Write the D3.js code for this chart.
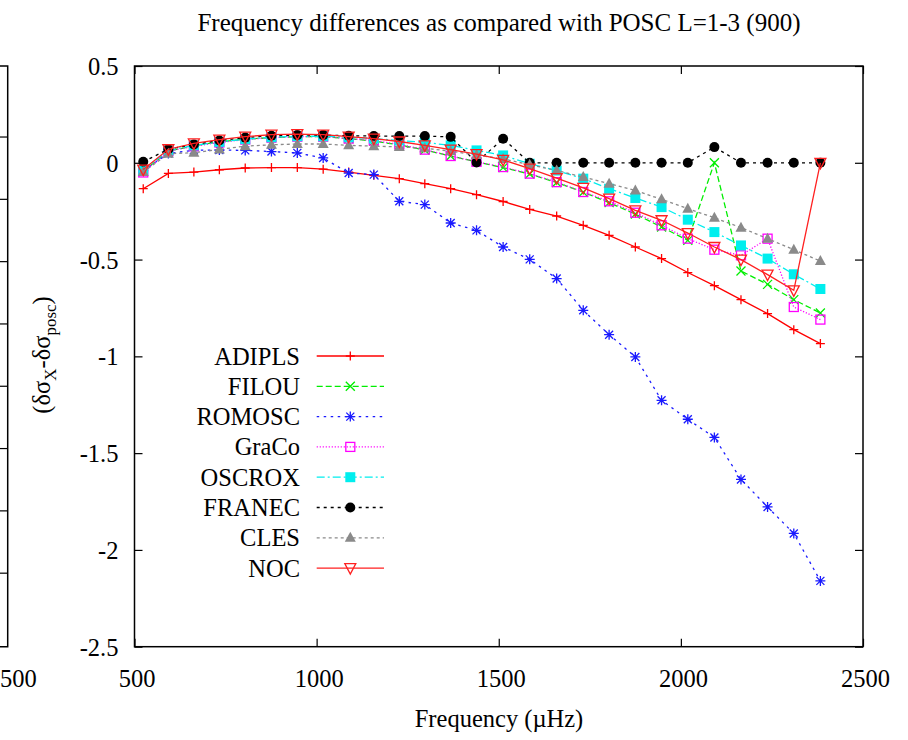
<!DOCTYPE html>
<html>
<head>
<meta charset="utf-8">
<script src="https://cdn.jsdelivr.net/npm/d3@7"></script>
<style>
  body { margin: 0; background: #fff; }
  svg { display: block; font-family: "Liberation Serif", "DejaVu Serif", serif; }
</style>
</head>
<body>
<div id="chart"></div>
<script>
// frequencies (muHz) of the modes
const freq = [524, 593, 663, 733, 804, 876, 947, 1018, 1088, 1157, 1227, 1297, 1368, 1439, 1512,
  1585, 1659, 1732, 1803, 1875, 1947, 2019, 2092, 2165, 2238, 2310, 2383]

const adipls = [-0.134, -0.055, -0.048, -0.036, -0.027, -0.025, -0.025, -0.033, -0.048, -0.065, -0.082, -0.108, -0.134, -0.165,
  -0.200, -0.241, -0.275, -0.323, -0.375, -0.435, -0.495, -0.567, -0.635, -0.707, -0.779, -0.862, -0.934]
const filou = [-0.045, 0.060, 0.088, 0.108, 0.122, 0.130, 0.135, 0.135, 0.125, 0.112, 0.092, 0.066, 0.035, 0.005,
  -0.025, -0.058, -0.102, -0.152, -0.206, -0.265, -0.332, -0.401, 0.000, -0.559, -0.628, -0.707, -0.776]
const romosc = [-0.040, 0.048, 0.065, 0.066, 0.064, 0.058, 0.051, 0.025, -0.053, -0.061, -0.199, -0.216, -0.311, -0.349,
  -0.435, -0.499, -0.598, -0.762, -0.888, -1.003, -1.227, -1.325, -1.419, -1.636, -1.778, -1.915, -2.160]
const graco = [-0.050, 0.060, 0.085, 0.105, 0.120, 0.130, 0.135, 0.135, 0.125, 0.115, 0.095, 0.068, 0.035, 0.005,
  -0.022, -0.056, -0.100, -0.151, -0.199, -0.258, -0.323, -0.392, -0.449, -0.478, -0.392, -0.745, -0.810]
const oscrox = [-0.040, 0.065, 0.090, 0.108, 0.122, 0.132, 0.137, 0.137, 0.132, 0.125, 0.115, 0.105, 0.090, 0.064,
  0.038, -0.005, -0.040, -0.082, -0.134, -0.182, -0.229, -0.294, -0.358, -0.427, -0.495, -0.576, -0.652]
const franec = [0.005, 0.070, 0.095, 0.115, 0.130, 0.140, 0.143, 0.143, 0.140, 0.138, 0.138, 0.138, 0.134, 0.002,
  0.124, 0.000, 0.000, 0.000, 0.000, 0.000, 0.000, 0.000, 0.081, 0.000, 0.000, 0.000, 0.000]
const cles = [-0.048, 0.047, 0.052, 0.069, 0.086, 0.093, 0.097, 0.097, 0.090, 0.086, 0.082, 0.075, 0.060, 0.040,
  0.020, -0.010, -0.040, -0.074, -0.108, -0.143, -0.189, -0.237, -0.284, -0.335, -0.392, -0.449, -0.508]
const noc = [-0.035, 0.070, 0.100, 0.120, 0.135, 0.145, 0.148, 0.145, 0.135, 0.125, 0.110, 0.090, 0.068, 0.045,
  0.015, -0.030, -0.079, -0.130, -0.185, -0.246, -0.297, -0.363, -0.435, -0.500, -0.578, -0.659, 0.000]

const seriesNames = ["ADIPLS", "FILOU", "ROMOSC", "GraCo", "OSCROX", "FRANEC", "CLES", "NOC"]
const seriesValues = [adipls, filou, romosc, graco, oscrox, franec, cles, noc]

const xTicks = [500, 1000, 1500, 2000, 2500]
const yTicks = [0.5, 0, -0.5, -1, -1.5, -2, -2.5]
const leftPanelTicks = [0.3, 0.2, 0.1, 0, -0.1, -0.2, -0.3, -0.4]

// styles per series (colour, dash, marker)
const styles = [
  {color: "#ff0000", dash: null, marker: "plus"},
  {color: "#00ee00", dash: "6,3", marker: "cross"},
  {color: "#1a1aff", dash: "2.5,4.5", marker: "star"},
  {color: "#ff00ff", dash: "1.2,1.8", marker: "box"},
  {color: "#00eeee", dash: "8,3,2,3", marker: "fbox"},
  {color: "#000000", dash: "3,4", marker: "fcircle"},
  {color: "#8a8a8a", dash: "3,3", marker: "ftri"},
  {color: "#ff2020", dash: null, marker: "itri"}
]

const W = 908, H = 740
const plot = {left: 134.5, right: 863, top: 66, bottom: 646.7}
const fs = '24.5px'

const svg = d3.select('#chart').append('svg')
  .attr('width', W).attr('height', H)

const x = d3.scaleLinear().domain([500, 2500]).range([plot.left, plot.right])
const y = d3.scaleLinear().domain([-2.5, 0.5]).range([plot.bottom, plot.top])

// partial left panel (cut off by the page edge)
const yl = d3.scaleLinear().domain([-0.518, 0.414]).range([plot.bottom, plot.top])
const leftEdge = 7.7
svg.append('path')
  .attr('d', `M-5,${plot.top}H${leftEdge}V${plot.bottom}H-5`)
  .attr('fill', 'none').attr('stroke', '#000').attr('stroke-width', 1.5)
svg.append('g').selectAll('line').data(leftPanelTicks).enter().append('line')
  .attr('x1', leftEdge).attr('x2', leftEdge - 8)
  .attr('y1', d => yl(d)).attr('y2', d => yl(d))
  .attr('stroke', '#000').attr('stroke-width', 1.2)
// only the tail of that panel's last x label shows
svg.append('text').attr('x', 0).attr('y', 686.7)
  .attr('text-anchor', 'start').style('font-size', fs).text('500')

// axes with inward ticks, mirrored
const gx = svg.append('g').attr('transform', `translate(0,${plot.bottom})`)
  .call(d3.axisBottom(x).tickValues(xTicks).tickSizeInner(-8).tickSizeOuter(0).tickFormat(d => String(d)))
gx.selectAll('text').attr('y', 40).attr('dy', null).attr('dx', '2')
svg.append('g').attr('transform', `translate(0,${plot.top})`)
  .call(d3.axisTop(x).tickValues(xTicks).tickSizeInner(-8).tickSizeOuter(0).tickFormat(''))

const gy = svg.append('g').attr('transform', `translate(${plot.left},0)`)
  .call(d3.axisLeft(y).tickValues(yTicks).tickSizeInner(-8).tickSizeOuter(0).tickFormat(d => String(d)))
gy.selectAll('text').attr('x', -16).attr('dy', '0.35em')
svg.append('g').attr('transform', `translate(${plot.right},0)`)
  .call(d3.axisRight(y).tickValues(yTicks).tickSizeInner(-8).tickSizeOuter(0).tickFormat(''))

svg.selectAll('.domain').remove()
svg.selectAll('.tick line').attr('stroke', '#000').attr('stroke-width', 1.2)
svg.selectAll('.tick text')
  .style('font-size', fs).style('font-family', '"Liberation Serif", serif').attr('fill', '#000')

svg.append('rect')
  .attr('x', plot.left).attr('y', plot.top)
  .attr('width', plot.right - plot.left).attr('height', plot.bottom - plot.top)
  .attr('fill', 'none').attr('stroke', '#000').attr('stroke-width', 1.5)

// titles
svg.append('text').attr('x', 499).attr('y', 31).attr('text-anchor', 'middle')
  .style('font-size', '25px').text('Frequency differences as compared with POSC L=1-3 (900)')
svg.append('text').attr('x', 499).attr('y', 727).attr('text-anchor', 'middle')
  .style('font-size', fs).text('Frequency (\u00b5Hz)')

const ylab = svg.append('text')
  .attr('transform', 'translate(50,355) rotate(-90)')
  .attr('text-anchor', 'middle').style('font-size', fs)
ylab.append('tspan').text('(\u03b4\u03c3')
ylab.append('tspan').attr('dy', 6).style('font-size', '17px').text('X')
ylab.append('tspan').attr('dy', -6).text('-\u03b4\u03c3')
ylab.append('tspan').attr('dy', 6).style('font-size', '17px').text('posc')
ylab.append('tspan').attr('dy', -6).text(')')

function drawMarker(g, type, cx, cy, color) {
  const sw = 1.3
  if (type === 'plus') {
    g.append('path').attr('d', `M${cx - 4.5},${cy}h9M${cx},${cy - 4.5}v9`)
      .attr('stroke', color).attr('stroke-width', sw).attr('fill', 'none')
  } else if (type === 'cross') {
    g.append('path').attr('d', `M${cx - 4.5},${cy - 4.5}l9,9M${cx - 4.5},${cy + 4.5}l9,-9`)
      .attr('stroke', color).attr('stroke-width', sw).attr('fill', 'none')
  } else if (type === 'star') {
    g.append('path').attr('d', `M${cx - 5},${cy}h10M${cx},${cy - 5}v10M${cx - 4},${cy - 4}l8,8M${cx - 4},${cy + 4}l8,-8`)
      .attr('stroke', color).attr('stroke-width', sw).attr('fill', 'none')
  } else if (type === 'box') {
    g.append('rect').attr('x', cx - 4.5).attr('y', cy - 4.5).attr('width', 9).attr('height', 9)
      .attr('stroke', color).attr('stroke-width', sw).attr('fill', 'none')
  } else if (type === 'fbox') {
    g.append('rect').attr('x', cx - 5).attr('y', cy - 5).attr('width', 10).attr('height', 10)
      .attr('fill', color)
  } else if (type === 'fcircle') {
    g.append('circle').attr('cx', cx).attr('cy', cy).attr('r', 5).attr('fill', color)
  } else if (type === 'ftri') {
    g.append('path').attr('d', `M${cx},${cy - 6}L${cx + 5.5},${cy + 4}L${cx - 5.5},${cy + 4}Z`)
      .attr('fill', color)
  } else if (type === 'itri') {
    g.append('path').attr('d', `M${cx - 5.5},${cy - 4.5}L${cx + 5.5},${cy - 4.5}L${cx},${cy + 6}Z`)
      .attr('stroke', color).attr('stroke-width', sw).attr('fill', 'none')
  }
}

const line = d3.line().x(d => x(d[0])).y(d => y(d[1]))

seriesValues.forEach(function(vals, i) {
  const st = styles[i]
  const pts = vals.map((v, j) => [freq[j], v])
  const g = svg.append('g')
  g.append('path').datum(pts).attr('d', line)
    .attr('fill', 'none').attr('stroke', st.color).attr('stroke-width', 1.3)
    .attr('stroke-dasharray', st.dash)
  pts.forEach(p => drawMarker(g, st.marker, x(p[0]), y(p[1]), st.color))

  // legend row
  const ly = 356 + 30.3 * i
  svg.append('text').attr('x', 300).attr('y', ly).attr('dy', '0.35em')
    .attr('text-anchor', 'end').style('font-size', fs).text(seriesNames[i])
  svg.append('line').attr('x1', 316.7).attr('x2', 384).attr('y1', ly).attr('y2', ly)
    .attr('stroke', st.color).attr('stroke-width', 1.3).attr('stroke-dasharray', st.dash)
  drawMarker(svg, st.marker, 350.3, ly, st.color)
})
</script>
</body>
</html>
